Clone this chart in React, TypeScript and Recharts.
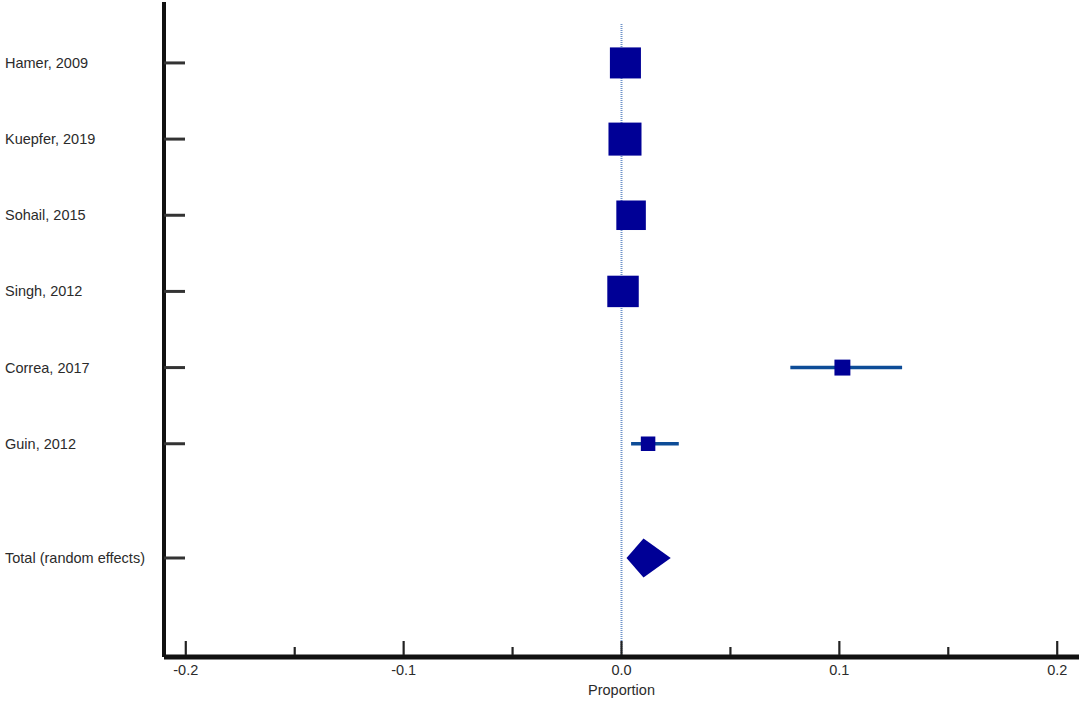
import React from "react";
import {
  ScatterChart,
  Scatter,
  XAxis,
  YAxis,
  ZAxis,
  ErrorBar,
  ReferenceLine,
} from "recharts";

// study rows, top to bottom
const studies = [
  "Hamer, 2009",
  "Kuepfer, 2019",
  "Sohail, 2015",
  "Singh, 2012",
  "Correa, 2017",
  "Guin, 2012",
];
const rowPos = [1, 2, 3, 4, 5, 6];
const estimate = [0.0018, 0.0016, 0.0044, 0.0007, 0.1014, 0.0122];
const ciLow = [0.0, 0.0, 0.0012, 0.0, 0.0775, 0.0044];
const ciHigh = [0.0045, 0.0042, 0.008, 0.003, 0.1288, 0.0263];
const weight = [22.0, 24.9, 19.9, 22.6, 5.8, 4.8];

const pooledLabel = "Total (random effects)";
const pooledRow = 7.5;
const pooledEst = 0.0101;
const pooledLow = 0.0023;
const pooledHigh = 0.0226;

const xTicks = [-0.2, -0.15, -0.1, -0.05, 0, 0.05, 0.1, 0.15, 0.2];
const xLabel = "Proportion";

const FONT = "'Liberation Sans', Arial, sans-serif";
const TEXT = "#2b2b2b";

const studyData = studies.map((name, i) => ({
  name,
  x: estimate[i],
  y: rowPos[i],
  w: weight[i],
  err: [estimate[i] - ciLow[i], ciHigh[i] - estimate[i]],
}));

const pooledData = [
  { x: pooledLow, y: pooledRow },
  { x: pooledEst, y: pooledRow },
  { x: pooledHigh, y: pooledRow },
];

const rowLabels: Record<string, string> = {};
studies.forEach((s, i) => (rowLabels[String(rowPos[i])] = s));
rowLabels[String(pooledRow)] = pooledLabel;

const Square = (props: any) => {
  const { cx, cy, size } = props;
  const s = Math.sqrt(size);
  return <rect x={cx - s / 2} y={cy - s / 2} width={s} height={s} fill="#000096" />;
};

const Diamond = (props: any) => {
  const pts = props.points || [];
  if (pts.length < 3) return <g />;
  const [a, b, c] = pts;
  const h = 19.5;
  const d = `M${a.x},${a.y} L${b.x},${b.y - h} L${c.x},${c.y} L${b.x},${b.y + h} Z`;
  return <path d={d} fill="#000096" stroke="none" />;
};

const YTick = (props: any) => {
  const { x, y, payload } = props;
  return (
    <g>
      <line x1={x} y1={y} x2={x + 21} y2={y} stroke="#333" strokeWidth={3} />
      <text
        x={5}
        y={y}
        dy={5}
        textAnchor="start"
        fontFamily={FONT}
        fontSize={14.5}
        fill={TEXT}
      >
        {rowLabels[String(payload.value)]}
      </text>
    </g>
  );
};

const XTick = (props: any) => {
  const { x, y, payload } = props;
  const v = payload.value;
  const major = Math.abs(v * 10 - Math.round(v * 10)) < 1e-6;
  return (
    <g>
      <line
        x1={x}
        y1={y - 2}
        x2={x}
        y2={major ? y - 16 : y - 10}
        stroke="#222"
        strokeWidth={2.2}
      />
      {major && (
        <text
          x={x}
          y={y + 18}
          textAnchor="middle"
          fontFamily={FONT}
          fontSize={14.5}
          fill={TEXT}
        >
          {v.toFixed(1)}
        </text>
      )}
    </g>
  );
};

export default function App() {
  return (
    <div
      style={{
        position: "absolute",
        left: 0,
        top: 0,
        width: 1084,
        height: 702,
        background: "#fff",
        fontFamily: FONT,
      }}
    >
      <ScatterChart
        width={1084}
        height={702}
        margin={{ top: 2, right: 5, bottom: 0, left: 0 }}
      >
        <XAxis
          type="number"
          dataKey="x"
          domain={[-0.21, 0.21]}
          ticks={xTicks}
          interval={0}
          tickSize={0}
          tickMargin={0}
          tickLine={false}
          tick={<XTick />}
          height={45}
          axisLine={{ stroke: "#111", strokeWidth: 5 }}
          label={{
            value: xLabel,
            position: "insideBottom",
            offset: 7,
            fill: TEXT,
            fontSize: 14.5,
            fontFamily: FONT,
          }}
        />
        <YAxis
          type="number"
          dataKey="y"
          domain={[0.2, 8.8]}
          reversed
          ticks={[...rowPos, pooledRow]}
          interval={0}
          tickSize={0}
          tickMargin={0}
          tickLine={false}
          tick={<YTick />}
          width={164}
          axisLine={{ stroke: "#111", strokeWidth: 4 }}
        />
        <ZAxis type="number" dataKey="w" domain={[0, 100]} range={[0, 4378]} />
        <ReferenceLine
          segment={[
            { x: 0, y: 0.49 },
            { x: 0, y: 8.8 },
          ]}
          stroke="#6f93c9"
          strokeWidth={2}
          strokeDasharray="1 1"
        />
        <Scatter
          data={studyData}
          shape={<Square />}
          isAnimationActive={false}
        >
          <ErrorBar
            dataKey="err"
            direction="x"
            width={0}
            stroke="#0d4c97"
            strokeWidth={3.5}
            isAnimationActive={false}
          />
        </Scatter>
        <Scatter
          data={pooledData}
          line={(p: any) => <Diamond {...p} />}
          lineType="joint"
          shape={() => <g />}
          isAnimationActive={false}
        />
      </ScatterChart>
    </div>
  );
}
